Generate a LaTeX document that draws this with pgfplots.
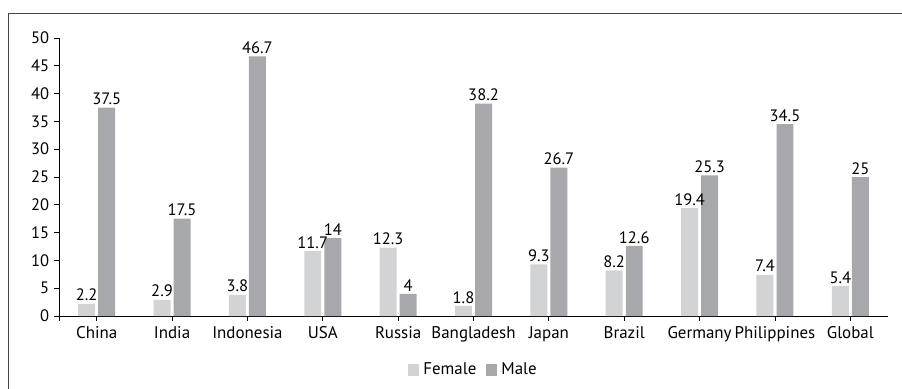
\documentclass[border=0pt]{standalone}
\usepackage{fontspec}
\setmainfont{PT Sans}
\usepackage{pgfplots}
\pgfplotsset{compat=1.18}
\definecolor{fem}{RGB}{210,211,213}
\definecolor{mal}{RGB}{167,168,172}
\definecolor{frame}{RGB}{70,70,70}
\newcommand{\fs}{\fontsize{17}{20}\selectfont}
\newcommand{\fn}{\fontsize{16.6}{20}\selectfont}
\begin{document}
\fs
\begin{tikzpicture}
\useasboundingbox (0,0) rectangle (902bp,-389bp);
\draw[frame, line width=1bp] (8bp,-389bp) -- (8bp,-13bp) -- (902bp,-13bp);
\begin{axis}[
  at={(59bp,-316bp)}, anchor=south west,
  scale only axis, width=829bp, height=278bp,
  xmin=-0.5, xmax=10.5, ymin=0, ymax=50,
  axis x line=bottom, axis y line=left,
  axis line style={black, line width=0.8bp, -},
  tick align=outside,
  tick style={black, line width=0.8bp},
  major tick length=5bp,
  xtick={0,...,10},
  extra x ticks={-0.5}, extra x tick labels={},
  xticklabels={China,India,Indonesia,USA,Russia,Bangladesh,Japan,Brazil,Germany,Philippines,Global},
  ytick={0,5,...,50},
  /pgf/number format/assume math mode=true,
  xticklabel style={font=\fs, text=black, yshift=0.5bp},
  yticklabel style={font=\fn, text=black, xshift=1bp},
  ybar, bar width=0.225,
  nodes near coords,
  every node near coord/.append style={font=\fn, text=black, inner sep=2.5bp, /pgf/number format/assume math mode=true},
  legend columns=2,
  legend style={at={(0.5,-0.195)}, anchor=center, draw=none, fill=none,
    font=\fs, inner sep=0pt, column sep=2bp,
    /tikz/every even column/.append style={column sep=8bp}},
  legend image code/.code={\fill[#1] (0bp,-6bp) rectangle (11bp,6bp);},
]
\addplot[fill=fem, draw=none, bar shift=-0.133] coordinates {
(0,2.2) (1,2.9) (2,3.8) (3,11.7) (4,12.3) (5,1.8) (6,9.3) (7,8.2) (8,19.4) (9,7.4) (10,5.4)};
\addplot[fill=mal, draw=none, bar shift=0.133] coordinates {
(0,37.5) (1,17.5) (2,46.7) (3,14) (4,4) (5,38.2) (6,26.7) (7,12.6) (8,25.3) (9,34.5) (10,25)};
\legend{Female,Male}
\end{axis}
\end{tikzpicture}
\end{document}
